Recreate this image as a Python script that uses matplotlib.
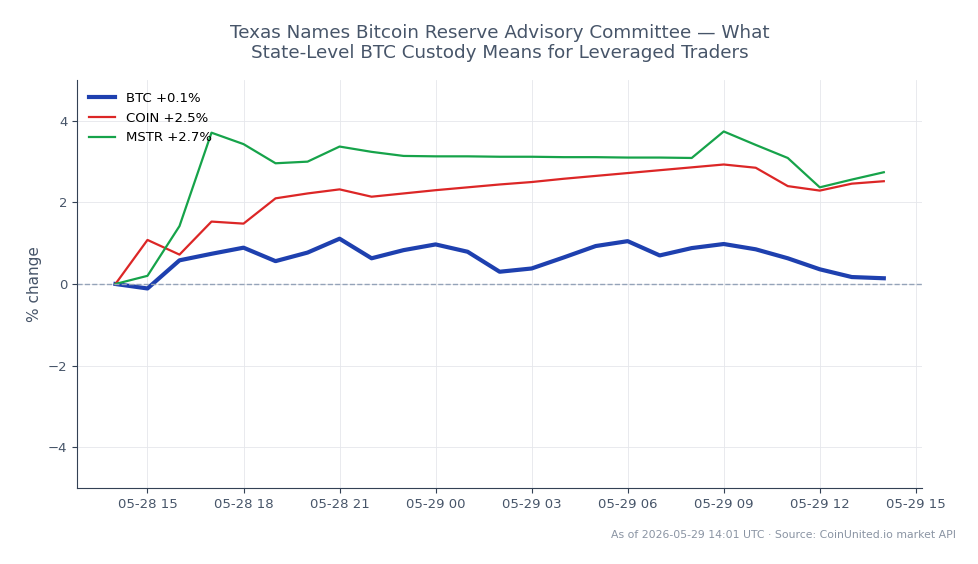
import matplotlib
matplotlib.use("Agg")
import matplotlib.pyplot as plt
import matplotlib.dates as mdates
import pandas as pd

times = pd.date_range("2026-05-28 14:00", "2026-05-29 14:00", freq="h")

btc = [0.0, -0.11, 0.58, 0.74, 0.89, 0.56, 0.77, 1.11, 0.63, 0.83, 0.97, 0.79, 0.30,
       0.38, 0.65, 0.93, 1.05, 0.70, 0.88, 0.98, 0.85, 0.63, 0.36, 0.17, 0.14]
coin = [0.0, 1.08, 0.72, 1.53, 1.48, 2.10, 2.22, 2.32, 2.14, 2.22, 2.30, 2.37, 2.44,
        2.50, 2.58, 2.65, 2.72, 2.79, 2.86, 2.93, 2.85, 2.40, 2.29, 2.46, 2.52]
mstr = [0.0, 0.20, 1.42, 3.71, 3.43, 2.96, 3.00, 3.37, 3.24, 3.14, 3.13, 3.13, 3.12,
        3.12, 3.11, 3.11, 3.10, 3.10, 3.09, 3.74, 3.41, 3.09, 2.37, 2.56, 2.74]

title = "Texas Names Bitcoin Reserve Advisory Committee — What\nState-Level BTC Custody Means for Leveraged Traders"
footer = "As of 2026-05-29 14:01 UTC · Source: CoinUnited.io market API"

text_col = "#475569"

fig = plt.figure(figsize=(9.79, 5.64), dpi=100)
ax = fig.add_axes([0.0787, 0.135, 0.8633, 0.723])

ax.plot(times, btc, color="#1e40af", lw=3, label=f"BTC {btc[-1]:+.1f}%")
ax.plot(times, coin, color="#dc2626", lw=1.6, label=f"COIN {coin[-1]:+.1f}%")
ax.plot(times, mstr, color="#16a34a", lw=1.6, label=f"MSTR {mstr[-1]:+.1f}%")
ax.axhline(0, color="#94a3b8", lw=1, ls="--")

ax.set_ylim(-5, 5)
ax.set_ylabel("% change", color=text_col, fontsize=11)
ax.xaxis.set_major_locator(mdates.HourLocator(byhour=range(0, 24, 3)))
ax.xaxis.set_major_formatter(mdates.DateFormatter("%m-%d %H"))
ax.grid(True, color="#e5e7eb", lw=0.6)
ax.set_axisbelow(True)
for s in ["top", "right"]:
    ax.spines[s].set_visible(False)
for s in ["left", "bottom"]:
    ax.spines[s].set_color("#334155")
ax.tick_params(colors=text_col, labelsize=9.5)
ax.tick_params(axis="both", color="#334155")

ax.legend(loc="upper left", frameon=False, fontsize=9.5)
fig.suptitle(title, color=text_col, fontsize=13.2, x=0.5103, y=0.958)
fig.text(0.976, 0.046, footer, ha="right", color="#8a94a3", fontsize=7.8)

fig.savefig("out.png", dpi=100)
